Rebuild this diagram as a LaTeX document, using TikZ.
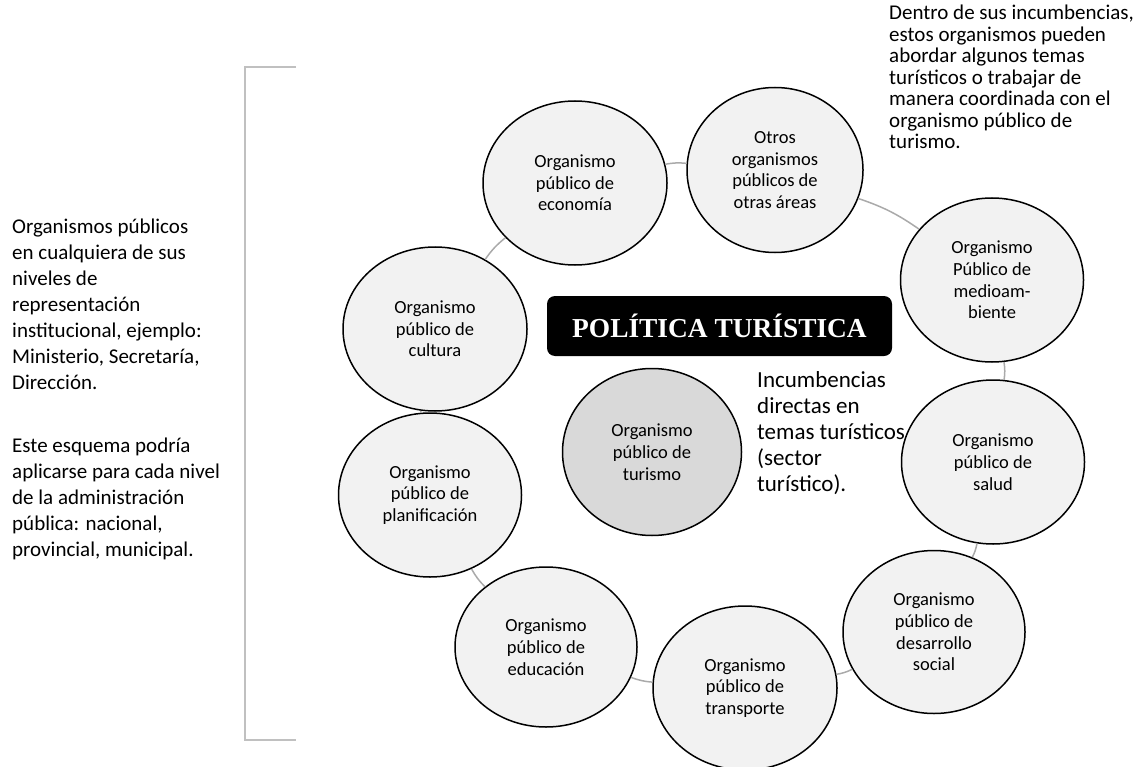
\documentclass[tikz,border=0pt]{standalone}
\usepackage{fontspec}
\setmainfont{Carlito}
\newfontfamily\titlefont{Liberation Serif}
\usetikzlibrary{shapes.geometric}
\definecolor{orgfill}{RGB}{242,242,242}
\definecolor{turfill}{RGB}{217,217,217}
\definecolor{linkgray}{RGB}{170,170,170}
\definecolor{bracketgray}{RGB}{192,192,192}
\begin{document}
\begin{tikzpicture}[x=1pt,y=-1pt,
  org/.style={ellipse, draw=black, line width=1.5pt, fill=orgfill, inner sep=0pt,
    align=center, font=\fontsize{18.5}{21.7}\selectfont},
  link/.style={draw=linkgray, line width=1.5pt, bend left=8},
  note/.style={inner sep=0pt, align=left, anchor=base west},
  titlebox/.style={fill=black, rounded corners=8pt, inner sep=0pt, text=white,
    font=\titlefont\bfseries\fontsize{27.4}{30}\selectfont}]
\useasboundingbox (0,0) rectangle (1139,767);

% bracket
\draw[bracketgray, line width=2pt] (296,67) -- (245,67) -- (245,740) -- (296,740);

% ring of organisms
\node[org, minimum width=184pt, minimum height=164pt] (eco) at (575,183) {Organismo\\público de\\economía};
\node[org, minimum width=176pt, minimum height=165pt] (otros) at (775,170) {Otros\\organismos\\públicos de\\otras áreas};
\node[org, minimum width=183pt, minimum height=164pt] (medio) at (992,280) {Organismo\\Público de\\medioam-\\biente};
\node[org, minimum width=183pt, minimum height=164pt] (salud) at (993,462) {Organismo\\público de\\salud};
\node[org, minimum width=182pt, minimum height=163pt] (social) at (934,632) {Organismo\\público de\\desarrollo\\social};
\node[org, minimum width=184pt, minimum height=164pt] (transp) at (745,688) {Organismo\\público de\\transporte};
\node[org, minimum width=182pt, minimum height=160pt] (educ) at (546,647) {Organismo\\público de\\educación};
\node[org, minimum width=183pt, minimum height=164pt] (plan) at (430,495) {Organismo\\público de\\planificación};
\node[org, minimum width=184pt, minimum height=164pt] (cult) at (435,329) {Organismo\\público de\\cultura};

% center
\node[org, fill=turfill, minimum width=179pt, minimum height=167pt] (tur) at (652,452) {Organismo\\público de\\turismo};
\node[titlebox, minimum width=345pt, minimum height=60pt] (title) at (719.5,326) {POLÍTICA TURÍSTICA};

% connectors
\draw[link] (eco) to (otros);
\draw[link] (otros) to (medio);
\draw[link] (medio) to (salud);
\draw[link] (salud) to (social);
\draw[link] (social) to (transp);
\draw[link] (transp) to (educ);
\draw[link] (educ) to (plan);
\draw[link] (plan) to (cult);
\draw[link] (cult) to (eco);

% texts (anchored at the baseline of their last line)
\node[note, font=\fontsize{21}{26}\selectfont] (left1) at (12,389) {Organismos públicos\\en cualquiera de sus\\niveles de\\representación\\institucional, ejemplo:\\Ministerio, Secretaría,\\Dirección.};
\node[note, font=\fontsize{21}{26}\selectfont] (left2) at (12,556) {Este esquema podría\\aplicarse para cada nivel\\de la administración\\pública: nacional,\\provincial, municipal.};
\node[note, font=\fontsize{21}{21.5}\selectfont] (topright) at (889,149) {Dentro de sus incumbencias,\\estos organismos pueden\\abordar algunos temas\\turísticos o trabajar de\\manera coordinada con el\\organismo público de\\turismo.};
\node[note, font=\fontsize{23}{26}\selectfont] (incumb) at (757,491) {Incumbencias\\directas en\\temas turísticos\\(sector\\turístico).};
\end{tikzpicture}
\end{document}
